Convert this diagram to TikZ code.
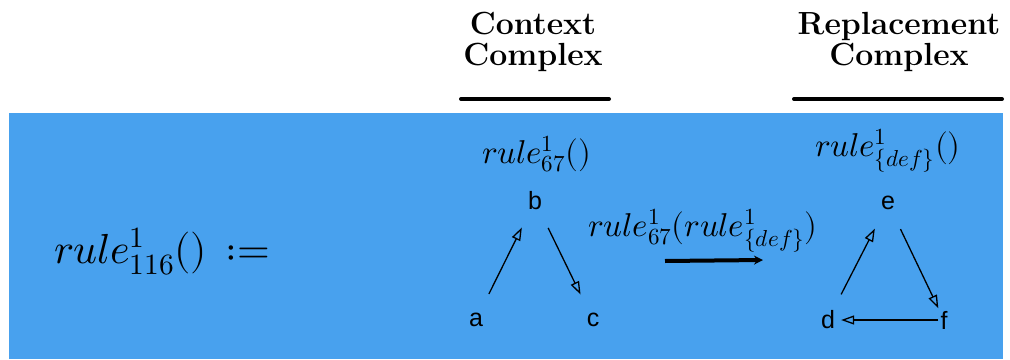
\documentclass[tikz,border=0pt]{standalone}
\usepackage{fontspec}
\usepackage{unicode-math}
\setmathfont{Latin Modern Math}
\usetikzlibrary{arrows.meta,positioning}
\newfontfamily\vertexfont{Liberation Sans}
\definecolor{panel}{RGB}{72,161,238}
\tikzset{vtx/.style={font=\vertexfont\fontsize{25}{25}\selectfont,inner xsep=6pt,inner ysep=19pt},
  edge/.style={line width=1.3pt,-{Triangle[open,length=13pt,width=9pt]}},
  head/.style={font=\bfseries\fontsize{32}{31}\selectfont,align=center,anchor=base},
  lbl/.style={font=\fontsize{33}{33}\selectfont,anchor=base},
  bar/.style={line width=4pt,line cap=round}}

\begin{document}
\begin{tikzpicture}[x=1pt,y=-1pt]
\useasboundingbox (0,0) rectangle (1010,359);
\fill[panel] (9,113) rectangle (1003,359);
% headers
\node[head] (ctx) at (533,65) {Context\\Complex};
\node[head] (rep) at (899,65) {Replacement\\Complex};
\draw[bar] (461,99)--(609,99);
\draw[bar] (794,99)--(1002,99);
% rule being defined
\node[lbl,font=\fontsize{42}{42}\selectfont] (def) at (162,263) {$rule^1_{116}()\,\mathrel{:=}$};
\node[lbl] (lhs) at (537,163) {$rule^1_{67}()$};
\node[lbl] (rhs) at (888,156) {$rule^1_{\{def\}}()$};
% context complex
\node[vtx] (a) at (476,320) {a};
\node[vtx] (b) at (535,201) {b};
\node[vtx] (c) at (593,320) {c};
\draw[edge] (a)--(b);
\draw[edge] (b)--(c);
% replacement complex
\node[vtx] (d) at (828,320) {d};
\node[vtx] (e) at (888,203) {e};
\node[vtx,inner xsep=2pt] (f) at (944,320) {f};
\draw[edge] (d)--(e);
\draw[edge] (e)--(f);
\draw[edge] (f)--(d);
% rewriting step
\node[lbl] (step) at (703,236) {$rule^1_{67}(rule^1_{\{def\}})$};
\coordinate (s0) at (665,261);
\coordinate (s1) at (763,260);
\draw[line width=4pt,-{Stealth[length=9pt,width=9pt]}] (s0)--(s1);
\end{tikzpicture}
\end{document}
